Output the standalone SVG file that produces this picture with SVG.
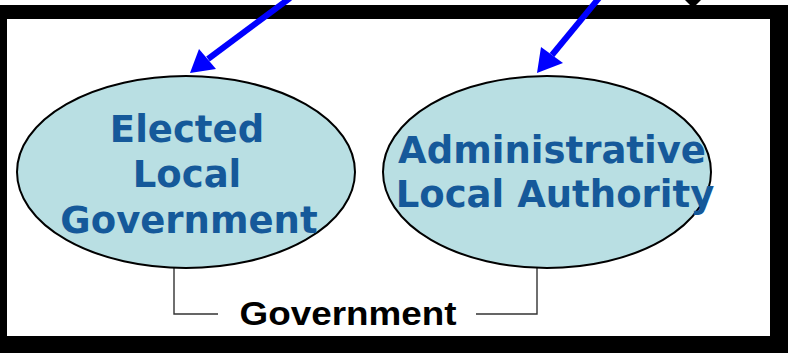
<svg xmlns="http://www.w3.org/2000/svg" width="788" height="354" viewBox="0 0 788 354">
<defs>
<style>
.node ellipse{fill:#B9DFE3;stroke:#000;stroke-width:2}
.node text{font-family:"DejaVu Sans",Verdana,sans-serif;font-weight:bold;font-size:37px;fill:#15599A;text-anchor:middle}
.blue{stroke:#0000FF;stroke-width:6;fill:none}
.head{fill:#0000FF}
.bracket{stroke:#333;stroke-width:1.4;fill:none}
.label{font-family:"Liberation Sans",Arial,sans-serif;font-weight:bold;font-size:33px;fill:#000;text-anchor:middle}
</style>
</defs>
<rect x="0" y="0" width="788" height="354" fill="#fff"/>
<g id="frame">
<path d="M0,5 H788 V353 H0 Z M7,19 V336 H770 V19 Z" fill="#000" fill-rule="evenodd"/>
<polygon points="685,0 701,0 693,8" fill="#000"/>
</g>
<g id="connectors">
<line class="blue" x1="290" y1="-2" x2="208" y2="59"/>
<polygon class="head" points="190,73 199,49 216,69"/>
<line class="blue" x1="599" y1="-2" x2="552" y2="55"/>
<polygon class="head" points="537,73 541,47 563,63"/>
<polyline class="bracket" points="174,268 174,314 218,314"/>
<polyline class="bracket" points="476,314 537,314 537,268"/>
</g>
<g id="elected" class="node">
<ellipse cx="186" cy="172" rx="169" ry="96"/>
<text x="187" y="142">Elected</text>
<text x="187" y="187">Local</text>
<text x="189" y="233">Government</text>
</g>
<g id="administrative" class="node">
<ellipse cx="547" cy="172" rx="164" ry="96"/>
<text x="552" y="163">Administrative</text>
<text x="555" y="207">Local Authority</text>
</g>
<g id="government">
<text class="label" x="348" y="325" textLength="217" lengthAdjust="spacingAndGlyphs">Government</text>
</g>
</svg>
